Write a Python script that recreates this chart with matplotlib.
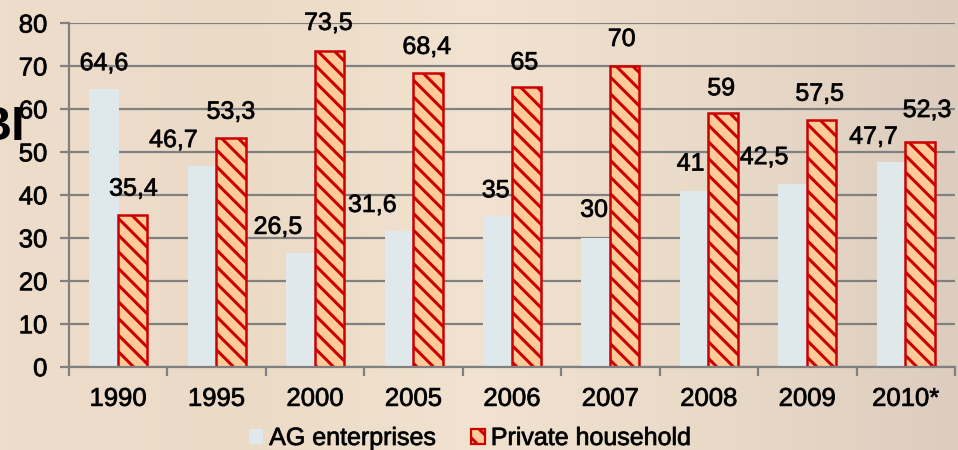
import matplotlib
matplotlib.use("Agg")
import matplotlib.pyplot as plt
import matplotlib.patheffects as pe
from matplotlib.colors import LinearSegmentedColormap
import numpy as np
from matplotlib.patches import Patch

categories = ["1990", "1995", "2000", "2005", "2006", "2007", "2008", "2009", "2010*"]
ag_enterprises = [64.6, 46.7, 26.5, 31.6, 35, 30, 41, 42.5, 47.7]
private_household = [35.4, 53.3, 73.5, 68.4, 65, 70, 59, 57.5, 52.3]
series_names = ["AG enterprises", "Private household"]
y_ticks = [0, 10, 20, 30, 40, 50, 60, 70, 80]

# label placement offsets (pixels) relative to bar top
ag_dx = [0, -29, -23, -27, -2, -2, -4, -29, -18]
ag_dy = [26, 26, 26, 26, 26, 28, 27, 27, 25]
ph_dx = [1, 0, -1, -1, -2, -3, -2, -2, 7]
ph_dy = [26, 26, 28, 26, 25, 27, 25, 26, 32]

plt.rcParams['font.family'] = ['Liberation Sans', 'DejaVu Sans']
plt.rcParams['hatch.linewidth'] = 2.2

DPI = 100
fig = plt.figure(figsize=(9.58, 4.5), dpi=DPI)
fig.patch.set_facecolor('#EBDCC9')

# soft beige backdrop
bg = fig.add_axes([0, 0, 1, 1], zorder=-5)
bg.axis('off')
cmap = LinearSegmentedColormap.from_list(
    'bgc', ['#EEDDCB', '#EBDAC6', '#F1E3D0', '#E9D9C7', '#DCCDBF'])
grad = np.tile(np.linspace(0, 1, 256), (8, 1))
bg.imshow(grad, cmap=cmap, aspect='auto', extent=[0, 1, 0, 1])
bg.set_xlim(0, 1)
bg.set_ylim(0, 1)

# background title fragment (partly off the left edge, as in the source slide)
fig.text(25 / 958, 1 - 140 / 450, "BI", fontsize=35, fontweight='bold', ha='right',
         va='baseline', color='black', zorder=-1)

ax = fig.add_axes([69 / 958, 1 - 366.7 / 450, (955 - 69) / 958, (366.7 - 23) / 450])
ax.set_facecolor('none')

x = np.arange(len(categories))
w = 0.30
off = 0.145
ag_color = '#DFE8EA'
red = '#CC0000'
peach = '#FFCC99'

ax.bar(x - off, ag_enterprises, width=w, color=ag_color, edgecolor='none', zorder=3,
       label=series_names[0])
ax.bar(x + off, private_household, width=w, facecolor=peach, edgecolor=red,
       hatch=r'\\', linewidth=1.8, zorder=3, label=series_names[1])

ax.set_xlim(-0.5, len(categories) - 0.5)
ax.set_ylim(0, 80)
ax.set_yticks(y_ticks)
ax.set_yticklabels([str(t) for t in y_ticks])
ax.yaxis.grid(True, color='#808080', linewidth=1.6, zorder=1)
ax.set_axisbelow(True)

ax.set_xticks(x)
ax.set_xticklabels(categories)
ax.set_xticks(np.arange(-0.5, len(categories), 1.0), minor=True)
ax.tick_params(axis='x', which='major', length=0, pad=14.5, labelsize=18.5, colors='black')
ax.tick_params(axis='x', which='minor', length=6.5, width=1.6, color='#808080', direction='out')
ax.tick_params(axis='y', which='major', length=6.5, width=1.6, color='#808080', direction='out',
               pad=9, labelsize=18.5, labelcolor='black')

stroke = [pe.withStroke(linewidth=0.6, foreground='#222222')]
for lab in ax.get_xticklabels() + ax.get_yticklabels():
    lab.set_path_effects(stroke)

for s in ['top', 'right']:
    ax.spines[s].set_visible(False)
for s in ['left', 'bottom']:
    ax.spines[s].set_color('#808080')
    ax.spines[s].set_linewidth(1.6)
    ax.spines[s].set_zorder(4)

pt = 72.0 / DPI
for i in range(len(categories)):
    ax.annotate(str(ag_enterprises[i]).replace('.', ','), xy=(x[i] - off, ag_enterprises[i]),
                xytext=(ag_dx[i] * pt, ag_dy[i] * pt), textcoords='offset points',
                ha='center', va='center', fontsize=18, color='black', zorder=5,
                annotation_clip=False, path_effects=stroke)
    ax.annotate(str(private_household[i]).replace('.', ','), xy=(x[i] + off, private_household[i]),
                xytext=(ph_dx[i] * pt, ph_dy[i] * pt), textcoords='offset points',
                ha='center', va='center', fontsize=18, color='black', zorder=5,
                annotation_clip=False, path_effects=stroke)

handles = [Patch(facecolor=ag_color, edgecolor='none'),
           Patch(facecolor=peach, edgecolor=red, hatch=r'\\', linewidth=1.6)]
leg = fig.legend(handles, series_names, loc='center', bbox_to_anchor=(470 / 958, 1 - 438 / 450),
                 ncol=2, frameon=False, fontsize=18, handlelength=0.55, handleheight=0.55,
                 handletextpad=0.25, columnspacing=1.4, borderaxespad=0, borderpad=0)
for t in leg.get_texts():
    t.set_path_effects(stroke)

fig.savefig("out.png", dpi=DPI, facecolor=fig.get_facecolor())
